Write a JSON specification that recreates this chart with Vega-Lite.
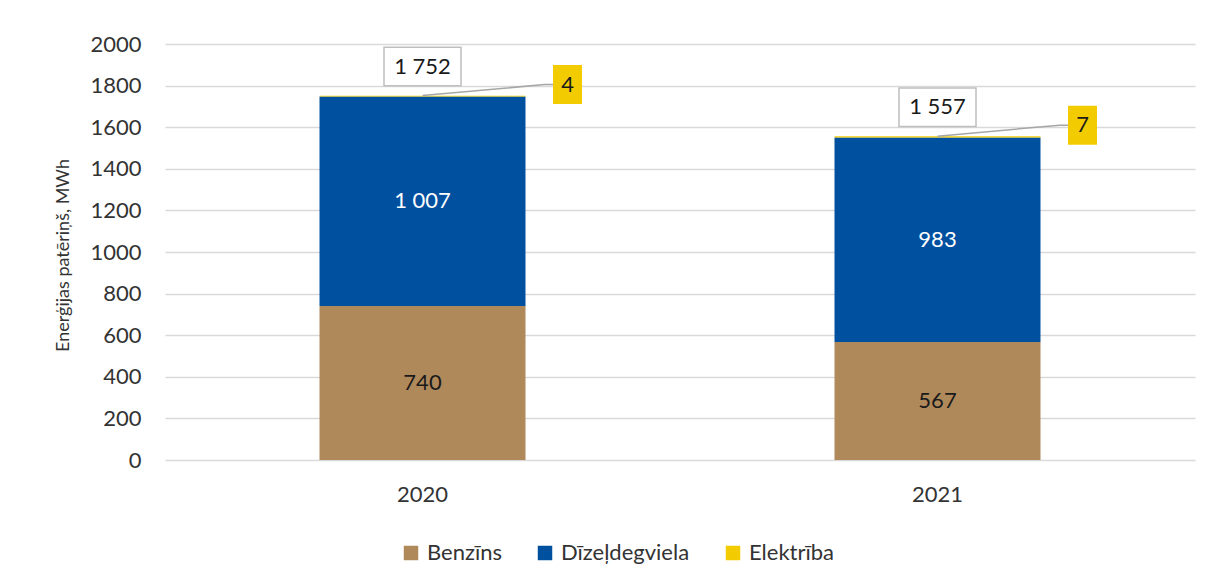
{
  "$schema": "https://vega.github.io/schema/vega-lite/v6.json",
  "width": 1030,
  "height": 416,
  "autosize": {"type": "none"},
  "padding": {"left": 165, "top": 44, "right": 15, "bottom": 122},
  "background": "white",
  "config": {
    "locale": {"number": {"decimal": ",", "thousands": " ", "grouping": [3], "currency": ["", " €"]}},
    "font": "Lato",
    "view": {"stroke": null},
    "axis": {"labelFont": "Lato", "titleFont": "Lato", "labelColor": "#333333", "titleColor": "#333333"},
    "legend": {"labelFont": "Lato", "labelColor": "#333333"}
  },
  "datasets": {
    "parts": [
      {"year": "2020", "type": "Benzīns", "value": 740},
      {"year": "2020", "type": "Dīzeļdegviela", "value": 1007},
      {"year": "2020", "type": "Elektrība", "value": 4},
      {"year": "2021", "type": "Benzīns", "value": 567},
      {"year": "2021", "type": "Dīzeļdegviela", "value": 983},
      {"year": "2021", "type": "Elektrība", "value": 7}
    ],
    "totals": [
      {"year": "2020", "total": 1752, "electricity": 4},
      {"year": "2021", "total": 1557, "electricity": 7}
    ]
  },
  "encoding": {
    "x": {
      "field": "year", "type": "nominal",
      "scale": {"paddingInner": 0.6, "paddingOuter": 0.3},
      "axis": {"title": null, "labelAngle": 0, "ticks": false, "domain": false, "labelFontSize": 22, "labelPadding": 24}
    }
  },
  "layer": [
    {
      "data": {"name": "parts"},
      "mark": {"type": "bar"},
      "encoding": {
        "y": {
          "field": "value", "type": "quantitative", "stack": "zero",
          "scale": {"domain": [0, 2000]},
          "axis": {
            "title": "Enerģijas patēriņš, MWh", "values": [0,200,400,600,800,1000,1200,1400,1600,1800,2000],
            "format": "d", "ticks": false, "domain": false, "gridColor": "#D9D9D9", "gridWidth": 1.3,
            "labelFontSize": 22, "labelPadding": 24, "titleFontSize": 18, "titleFontWeight": "normal",
            "titleX": -102, "titleY": 211, "titleBaseline": "middle", "titleAngle": -90
          }
        },
        "order": {"field": "type", "sort": "ascending"},
        "color": {
          "field": "type", "type": "nominal",
          "scale": {"domain": ["Benzīns", "Dīzeļdegviela", "Elektrība"], "range": ["#B0895B", "#0050A0", "#F2CC00"]},
          "legend": {
            "title": null, "orient": "none", "direction": "horizontal", "legendX": 235, "legendY": 498,
            "symbolType": "square", "symbolSize": 210, "symbolStrokeWidth": 0, "labelFontSize": 22,
            "labelOffset": 5, "columnPadding": 32
          }
        }
      }
    },
    {
      "data": {"name": "parts"},
      "transform": [{"filter": "datum.type !== 'Elektrība'"}],
      "mark": {"type": "text", "fontSize": 22, "baseline": "middle"},
      "encoding": {
        "y": {"field": "value", "type": "quantitative", "stack": "zero", "bandPosition": 0.5},
        "detail": {"field": "type"},
        "order": {"field": "type", "sort": "ascending"},
        "text": {"field": "value", "type": "quantitative", "format": ",d"},
        "color": {"condition": {"test": "datum.type === 'Benzīns'", "value": "#1a1a1a"}, "value": "#ffffff"}
      }
    },
    {
      "data": {"name": "totals"},
      "mark": {"type": "point", "shape": "M0,0 L122,-11 L131,-11", "size": 4, "filled": false, "stroke": "#A6A6A6", "strokeWidth": 1.5, "opacity": 1},
      "encoding": {"y": {"field": "total", "type": "quantitative"}}
    },
    {
      "data": {"name": "totals"},
      "mark": {"type": "point", "shape": "M-1,-0.5 L1,-0.5 L1,0.5 L-1,0.5 Z", "size": 5929, "filled": true, "fill": "white", "stroke": "#BFBFBF", "strokeWidth": 1.5, "opacity": 1, "yOffset": -29},
      "encoding": {"y": {"field": "total", "type": "quantitative"}}
    },
    {
      "data": {"name": "totals"},
      "mark": {"type": "text", "fontSize": 22, "baseline": "middle", "dy": -29, "color": "#1a1a1a"},
      "encoding": {
        "y": {"field": "total", "type": "quantitative"},
        "text": {"field": "total", "type": "quantitative", "format": ",d"}
      }
    },
    {
      "data": {"name": "totals"},
      "mark": {"type": "point", "shape": "M-1,-1.345 L1,-1.345 L1,1.345 L-1,1.345 Z", "size": 841, "filled": true, "fill": "#F2CC00", "strokeWidth": 0, "opacity": 1, "xOffset": 145, "yOffset": -11},
      "encoding": {"y": {"field": "total", "type": "quantitative"}}
    },
    {
      "data": {"name": "totals"},
      "mark": {"type": "text", "fontSize": 22, "baseline": "middle", "dx": 145, "dy": -11, "color": "#1a1a1a"},
      "encoding": {
        "y": {"field": "total", "type": "quantitative"},
        "text": {"field": "electricity", "type": "quantitative", "format": ",d"}
      }
    }
  ]
}
